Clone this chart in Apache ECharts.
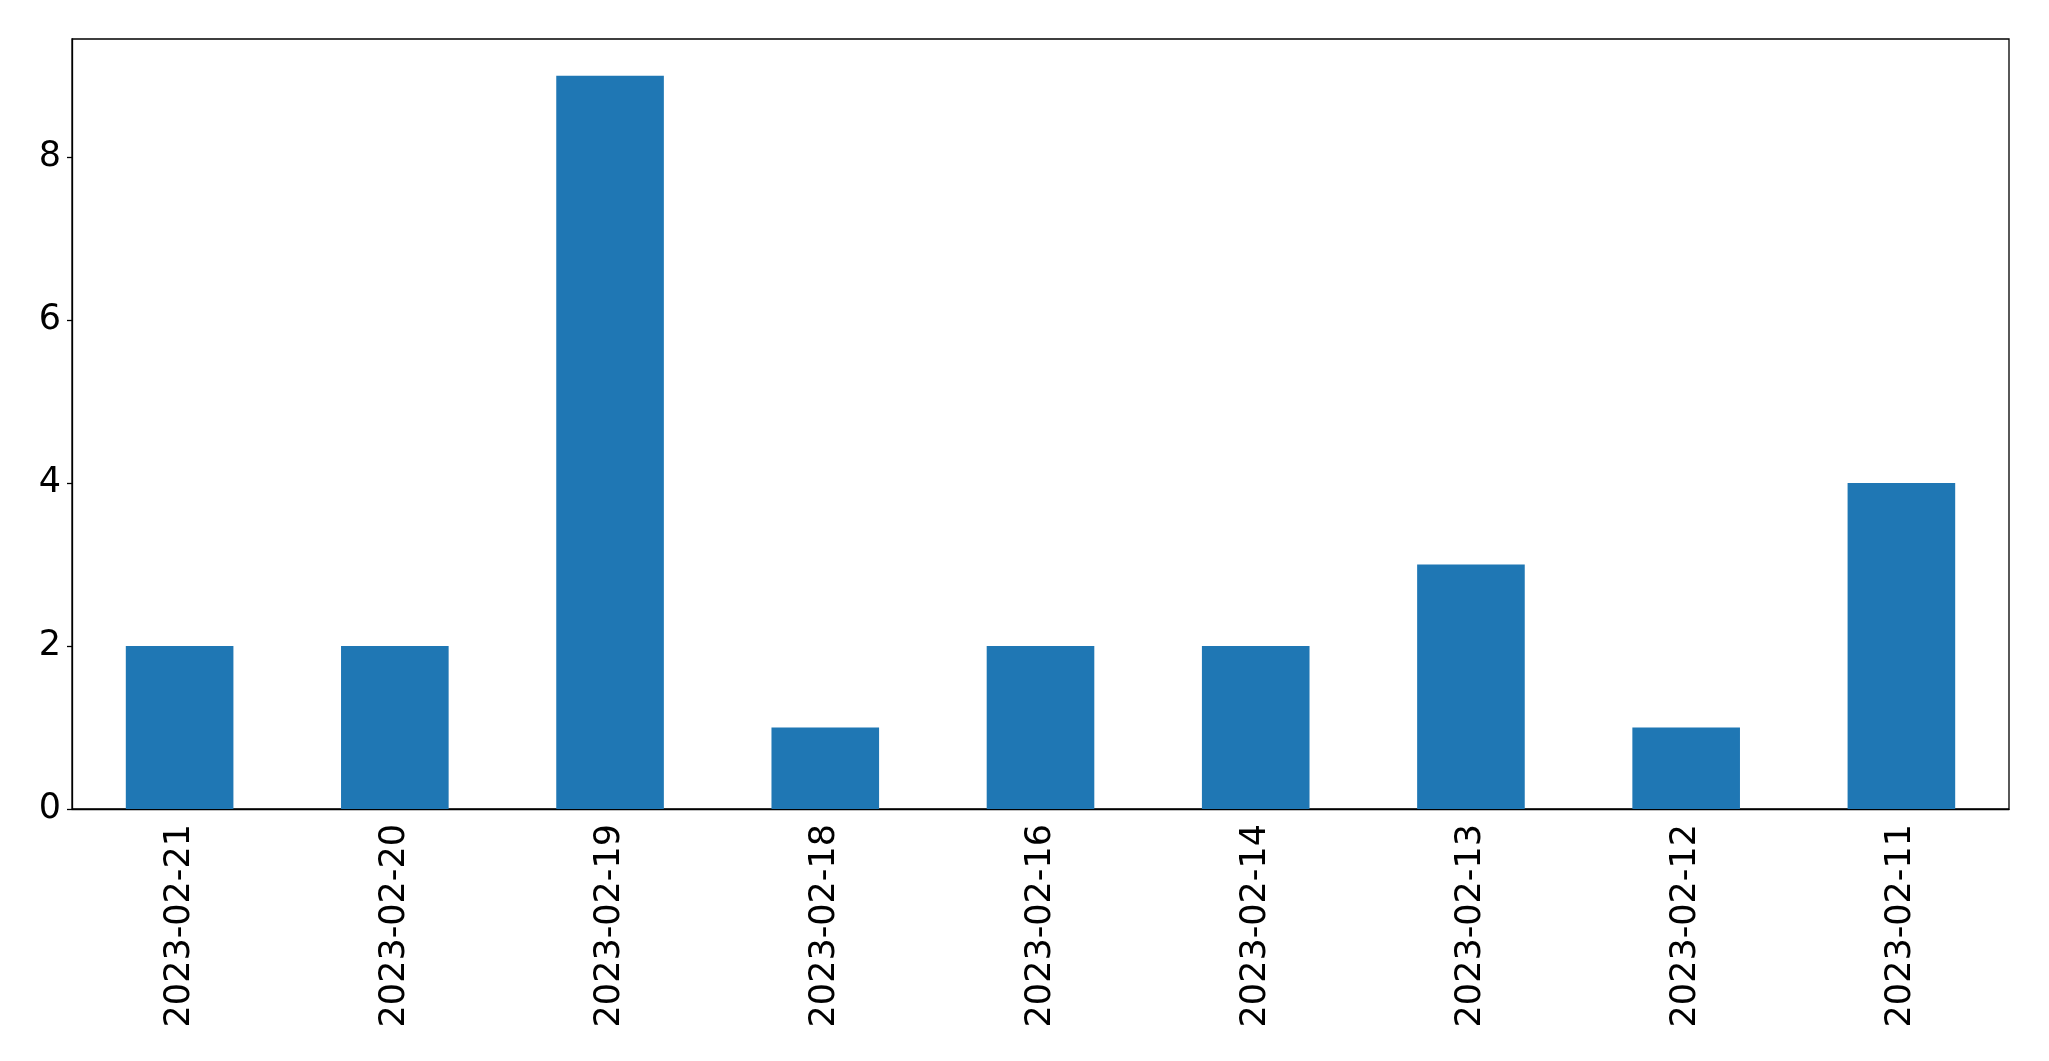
<!DOCTYPE html>
<html>
<head>
<meta charset="utf-8">
<script src="https://cdn.jsdelivr.net/npm/echarts@6/dist/echarts.min.js"></script>
<style>html,body{margin:0;padding:0;background:#fff;}#c{width:2049px;height:1061px;}</style>
</head>
<body>
<div id="c"></div>
<script>
const categories = ['2023-02-21','2023-02-20','2023-02-19','2023-02-18','2023-02-16','2023-02-14','2023-02-13','2023-02-12','2023-02-11'];
const values = [2, 2, 9, 1, 2, 2, 3, 1, 4];

const chart = echarts.init(document.getElementById('c'), null, {renderer: 'canvas'});
chart.setOption({
  animation: false,
  backgroundColor: '#fff',
  grid: {left: 72, top: 39, right: 40, bottom: 252, show: true, borderColor: '#000', borderWidth: 1.3, containLabel: false},
  xAxis: {
    type: 'category',
    data: categories,
    axisLine: {lineStyle: {color: '#000', width: 1.3}},
    axisTick: {alignWithLabel: true, length: 5, lineStyle: {color: '#000', width: 1.3}},
    axisLabel: {rotate: 90, margin: 15, fontSize: 35, color: '#000', fontFamily: 'DejaVu Sans', interval: 0},
    splitLine: {show: false}
  },
  yAxis: {
    type: 'value',
    min: 0, max: 9.45, interval: 2,
    axisLine: {show: true, lineStyle: {color: '#000', width: 1.3}},
    axisTick: {show: true, length: 5, lineStyle: {color: '#000', width: 1.3}},
    axisLabel: {margin: 11, fontSize: 35, color: '#000', fontFamily: 'DejaVu Sans', showMaxLabel: false},
    splitLine: {show: false}
  },
  series: [{
    type: 'bar',
    data: values,
    barWidth: '50%',
    itemStyle: {color: '#1f77b4'}
  }]
});
</script>
</body>
</html>
